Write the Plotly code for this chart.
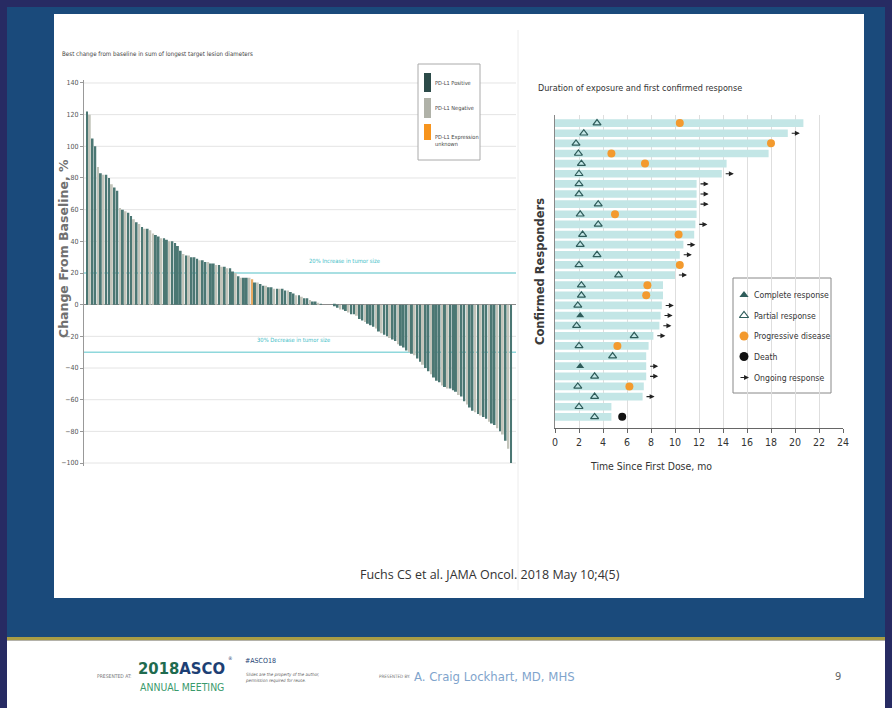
import plotly.graph_objects as go

W, H = 892, 708
NARROW = "Liberation Sans Narrow, DejaVu Sans Condensed, Arial Narrow, sans-serif"
NAVY = "#272b63"
SLIDE_BLUE = "#1a4a7b"

# ---------------- waterfall: best % change from baseline (sorted) ----------------
best_change = [
    122, 120, 105, 100, 87, 83, 82, 82, 80, 76,
    74, 72, 61, 60, 59, 58, 56, 54, 52, 51,
    49, 48, 48, 47, 45, 44, 43, 42, 42, 41,
    40, 40, 39, 37, 34, 32, 31, 31, 30, 30,
    29, 28, 28, 27, 27, 26, 26, 25, 25, 24,
    24, 23, 23, 21, 20, 18, 17, 17, 17, 17,
    16, 14, 14, 13, 12, 12, 11, 11, 10, 10,
    10, 10, 9, 9, 8, 7, 6, 6, 5, 4,
    4, 3, 2, 2, 1, 0.5, 0, 0, 0, 0,
    -1, -2, -3, -3, -4, -5, -6, -6, -7, -9,
    -10, -11, -12, -13, -14, -15, -17, -18, -19, -20,
    -21, -22, -23, -25, -26, -27, -29, -30, -31, -32,
    -34, -36, -38, -40, -42, -44, -46, -48, -49, -51,
    -52, -53, -53, -54, -55, -57, -58, -61, -63, -65,
    -67, -68, -69, -70, -71, -72, -74, -75, -76, -78,
    -80, -82, -86, -91, -100,
]
# P = PD-L1 positive, N = PD-L1 negative, U = expression unknown
pdl1_status = (
    "PNPPNPNPPN" "PPNPNPPNPN" "PNPNNPPNPP" "NPPPPNPNPP"
    "PNPPNPPNPN" "PNPPNPNPPN" "UPNPPNPPNP" "NPPNPPNPNP"
    "PNPPNPPNPP" "PPNPPNPPNP" "PNPPPNPNPP" "NPPNPPPNPN"
    "PPNPPNPPPN" "PNPPPNPPNP" "PNPNPPNPPN" "PNPNP"
)
status_labels = ["PD-L1 Positive", "PD-L1 Negative", "PD-L1 Expression<br>unknown"]
bar_colors = {"P": "#4b7773", "N": "#c2c4ba", "U": "#e9aa62"}
swatch_colors = ["#2c4b49", "#b0b2a8", "#f7941d"]
y_ticks_left = list(range(-100, 141, 20))
ref_levels = [20, -30]
ref_labels = ["20% Increase in tumor size", "30% Decrease in tumor size"]

# ---------------- swimmer plot: 30 confirmed responders (top to bottom) ----------------
exposure_mo = [20.7, 19.4, 18.0, 17.8, 14.3, 13.9, 11.8, 11.8, 11.8, 11.8,
               11.7, 11.6, 10.7, 10.4, 10.2, 10.0, 9.0, 9.0, 8.9, 8.8,
               8.7, 8.2, 7.8, 7.6, 7.6, 7.6, 7.4, 7.3, 4.7, 4.7]
response_mo = [3.5, 2.4, 1.75, 1.95, 2.2, 2.0, 2.0, 2.0, 3.6, 2.1,
               3.6, 2.3, 2.1, 3.5, 2.0, 5.3, 2.2, 2.2, 1.9, 2.1,
               1.8, 6.6, 2.0, 4.8, 2.1, 3.3, 1.9, 3.3, 2.0, 3.3]
response_type = ["PR"] * 19 + ["CR"] + ["PR"] * 4 + ["CR"] + ["PR"] * 5
progression_mo = [10.4, None, 18.0, 4.7, 7.5, None, None, None, None, 5.0,
                  None, 10.3, None, None, 10.4, None, 7.7, 7.6, None, None,
                  None, None, 5.2, None, None, None, 6.2, None, None, None]
death_mo = [None] * 29 + [5.6]
ongoing = [False, True, False, False, False, True, True, True, True, False,
           True, False, True, True, False, True, False, False, True, True,
           True, True, False, False, True, True, False, True, False, False]
x_ticks_right = list(range(0, 25, 2))

legend_right = ["Complete response", "Partial response", "Progressive disease",
                "Death", "Ongoing response"]

n_resp = len(exposure_mo)
rows = [n_resp - i for i in range(n_resp)]


def px(x):
    return x / W


def py(y):
    return 1 - y / H


def note(x, y, text, size, color, xanchor="left", yanchor="middle", family=NARROW, **kw):
    """Text placed in slide pixel coordinates."""
    return dict(x=px(x), y=py(y), xref="paper", yref="paper", text=text, showarrow=False,
                xanchor=xanchor, yanchor=yanchor,
                font=dict(family=family, size=size, color=color), **kw)


fig = go.Figure()

# waterfall bars
idx = list(range(len(best_change)))
fig.add_trace(go.Bar(
    x=idx, y=best_change, width=0.72,
    marker=dict(color=[bar_colors[s] for s in pdl1_status], line=dict(width=0)),
    xaxis="x", yaxis="y", hoverinfo="y",
))

# swimmer lanes
fig.add_trace(go.Bar(
    x=exposure_mo, y=rows, base=0, orientation="h", width=0.76,
    marker=dict(color="#c3e6e6", line=dict(width=0)),
    xaxis="x2", yaxis="y2", hoverinfo="x",
))

TEAL = "#2e5c5a"
pr = [(r, y) for r, y, t in zip(response_mo, rows, response_type) if t == "PR"]
cr = [(r, y) for r, y, t in zip(response_mo, rows, response_type) if t == "CR"]
pd_pts = [(p, y) for p, y in zip(progression_mo, rows) if p is not None]
dth = [(d, y) for d, y in zip(death_mo, rows) if d is not None]

fig.add_trace(go.Scatter(x=[p[0] for p in pd_pts], y=[p[1] for p in pd_pts], mode="markers",
                         marker=dict(symbol="circle", size=8, color="#f39a2e"),
                         xaxis="x2", yaxis="y2"))
fig.add_trace(go.Scatter(x=[p[0] for p in dth], y=[p[1] for p in dth], mode="markers",
                         marker=dict(symbol="circle", size=8, color="#111111"),
                         xaxis="x2", yaxis="y2"))
fig.add_trace(go.Scatter(x=[p[0] for p in pr], y=[p[1] for p in pr], mode="markers",
                         marker=dict(symbol="triangle-up-open", size=7, color=TEAL,
                                     line=dict(width=1.2, color=TEAL)),
                         xaxis="x2", yaxis="y2"))
fig.add_trace(go.Scatter(x=[p[0] for p in cr], y=[p[1] for p in cr], mode="markers",
                         marker=dict(symbol="triangle-up", size=7, color=TEAL),
                         xaxis="x2", yaxis="y2"))

ARROW = dict(text="", showarrow=True, arrowhead=2, arrowsize=0.9,
             arrowwidth=1.1, arrowcolor="#222222")
annotations = []
for dur, y, on in zip(exposure_mo, rows, ongoing):
    if on:
        annotations.append(dict(
            x=dur + 1.0, y=y, ax=dur + 0.2, ay=y,
            xref="x2", yref="y2", axref="x2", ayref="y2", **ARROW))

# key for the swimmer plot (auxiliary axis laid over the key box)
key_y = [295, 315.5, 336, 356.5, 377.5]
key_x = 744
fig.add_trace(go.Scatter(x=[key_x], y=[key_y[0]], mode="markers",
                         marker=dict(symbol="triangle-up", size=8, color=TEAL),
                         xaxis="x3", yaxis="y3"))
fig.add_trace(go.Scatter(x=[key_x], y=[key_y[1]], mode="markers",
                         marker=dict(symbol="triangle-up-open", size=8, color=TEAL,
                                     line=dict(width=1.2, color=TEAL)),
                         xaxis="x3", yaxis="y3"))
fig.add_trace(go.Scatter(x=[key_x], y=[key_y[2]], mode="markers",
                         marker=dict(symbol="circle", size=9, color="#f39a2e"),
                         xaxis="x3", yaxis="y3"))
fig.add_trace(go.Scatter(x=[key_x], y=[key_y[3]], mode="markers",
                         marker=dict(symbol="circle", size=9, color="#111111"),
                         xaxis="x3", yaxis="y3"))
annotations.append(dict(x=key_x + 5, y=key_y[4], ax=key_x - 5, ay=key_y[4],
                        xref="x3", yref="y3", axref="x3", ayref="y3", **ARROW))
for lab, yy in zip(legend_right, key_y):
    annotations.append(dict(x=752, y=yy, xref="x3", yref="y3", text=lab, showarrow=False,
                            xanchor="left", yanchor="middle",
                            font=dict(family=NARROW, size=8.6, color="#333333")))

shapes = [
    # slide background, content panel, footer
    dict(type="rect", xref="paper", yref="paper", x0=px(7), x1=px(885), y0=py(638), y1=py(7),
         fillcolor=SLIDE_BLUE, line=dict(width=0), layer="below"),
    dict(type="rect", xref="paper", yref="paper", x0=px(54), x1=px(864), y0=py(598), y1=py(14),
         fillcolor="white", line=dict(width=0), layer="below"),
    dict(type="rect", xref="paper", yref="paper", x0=px(7), x1=px(885), y0=py(640.5), y1=py(637),
         fillcolor="#a99d45", line=dict(width=0), layer="below"),
    dict(type="rect", xref="paper", yref="paper", x0=px(7), x1=px(885), y0=0, y1=py(640.5),
         fillcolor="white", line=dict(width=0), layer="below"),
    # panel divider
    dict(type="line", xref="paper", yref="paper", x0=px(518), x1=px(518), y0=py(590), y1=py(30),
         line=dict(color="#ececec", width=1), layer="below"),
]
# waterfall gridlines, then the tumour-size reference lines, all beneath the bars
for v in y_ticks_left:
    if v != 0:
        shapes.append(dict(type="line", xref="x domain", yref="y", x0=0, x1=1, y0=v, y1=v,
                           line=dict(color="#e4e4e4", width=1), layer="below"))
for v in ref_levels:
    shapes.append(dict(type="line", xref="x domain", yref="y", x0=0, x1=1, y0=v, y1=v,
                       line=dict(color="#8fd8dc", width=1.5), layer="below"))
# key boxes
shapes += [
    dict(type="rect", xref="paper", yref="paper", x0=px(418), x1=px(480), y0=py(160), y1=py(64),
         fillcolor="white", line=dict(color="#aaaaaa", width=1), layer="above"),
    dict(type="rect", xref="paper", yref="paper", x0=px(733), x1=px(831), y0=py(393), y1=py(278),
         fillcolor="white", line=dict(color="#888888", width=1), layer="below"),
]

# waterfall key swatches and labels
sw_y = [(73, 92), (98, 118), (124, 140)]
lab_y = [83, 108, 140]
for (y0, y1), col, lab, ly in zip(sw_y, swatch_colors, status_labels, lab_y):
    shapes.append(dict(type="rect", xref="paper", yref="paper", x0=px(424), x1=px(431),
                       y0=py(y1), y1=py(y0), fillcolor=col, line=dict(width=0), layer="above"))
    annotations.append(note(433, ly, lab, 5.6, "#444444", align="left"))

# reference line labels
annotations.append(dict(x=0.604, y=27.5, xref="x domain", yref="y", showarrow=False,
                        xanchor="center", yanchor="middle", text=ref_labels[0],
                        font=dict(family=NARROW, size=5.8, color="#45c0c8")))
annotations.append(dict(x=0.484, y=-22, xref="x domain", yref="y", showarrow=False,
                        xanchor="center", yanchor="middle", text=ref_labels[1],
                        font=dict(family=NARROW, size=5.8, color="#45c0c8")))

# titles and labels
annotations += [
    note(60, 54, "Best change from baseline in sum of longest target lesion diameters",
         6.2, "#444444"),
    dict(x=px(63), y=py(248), xref="paper", yref="paper", showarrow=False, textangle=-90,
         xanchor="center", yanchor="middle", text="Change From Baseline, %",
         font=dict(family="DejaVu Sans", size=12.5, color="#707070", weight="bold")),
    note(536, 88, "Duration of exposure and first confirmed response", 9, "#333333"),
    dict(x=px(540), y=py(272), xref="paper", yref="paper", showarrow=False, textangle=-90,
         xanchor="center", yanchor="middle", text="Confirmed Responders",
         font=dict(family="DejaVu Sans", size=11.5, color="#3a3a3a", weight="bold")),
    note(651, 466, "Time Since First Dose, mo", 10.4, "#333333", xanchor="center"),
    note(490, 574, "Fuchs CS et al. JAMA Oncol. 2018 May 10;4(5)", 12.5, "#333333",
         xanchor="center", family="Open Sans"),
    # footer
    note(95, 676, "PRESENTED AT:", 5, "#777777"),
    dict(x=px(136), y=py(668), xref="paper", yref="paper", showarrow=False,
         xanchor="left", yanchor="middle",
         text="<span style='color:#1f6b4f'>2018</span><span style='color:#1d3f74'>ASCO</span>",
         font=dict(family=NARROW, size=16.5, weight="bold")),
    note(226, 658, "®", 5, "#1d3f74"),
    note(138, 687, "ANNUAL MEETING", 10.4, "#3a9a6c"),
    note(243, 661, "#ASCO18", 7, "#1d3f74"),
    note(243, 677, "<i>Slides are the property of the author,<br>permission required for reuse.</i>",
         4.4, "#666666", align="left"),
    note(377, 676, "PRESENTED BY:", 4.5, "#777777"),
    note(412, 676, "A. Craig Lockhart, MD, MHS", 13, "#7fa4cc"),
    note(838, 676, "9", 11, "#666666", xanchor="center"),
]

n_bars = len(best_change)
fig.update_layout(
    width=W, height=H, autosize=False, margin=dict(l=0, r=0, t=0, b=0, pad=0, autoexpand=False),
    paper_bgcolor=NAVY, plot_bgcolor="rgba(0,0,0,0)",
    showlegend=False, barmode="overlay",
    shapes=shapes, annotations=annotations,
    xaxis=dict(domain=[px(84), px(516)], range=[-1.09, n_bars + 0.8], automargin=False,
               showticklabels=False, showgrid=False, zeroline=False, showline=False,
               fixedrange=True),
    yaxis=dict(domain=[py(466.2), py(79.8)], range=[-102, 142], tickvals=y_ticks_left,
               automargin=False,
               ticks="outside", ticklen=3, tickcolor="#999999", showline=True,
               linecolor="#999999", linewidth=1, showgrid=False,
               zeroline=True, zerolinecolor="#8a8a8a", zerolinewidth=1,
               tickfont=dict(family=NARROW, size=7, color="#555555")),
    xaxis2=dict(domain=[px(555), px(843)], range=[0, 24], tickvals=x_ticks_right,
                automargin=False,
                ticks="outside", ticklen=4, tickcolor="#666666", showline=True,
                linecolor="#666666", gridcolor="#dedede", zeroline=False, anchor="y2",
                tickfont=dict(family=NARROW, size=10.5, color="#333333")),
    yaxis2=dict(domain=[py(428), py(115)], range=[-0.1, 30.8], showticklabels=False,
                automargin=False,
                showgrid=False, zeroline=False, showline=True, linecolor="#888888",
                ticks="", anchor="x2"),
    xaxis3=dict(domain=[px(733), px(831)], range=[733, 831], visible=False, anchor="y3",
                automargin=False),
    yaxis3=dict(domain=[py(393), py(278)], range=[393, 278], visible=False, anchor="x3",
                automargin=False),
)

fig.write_html("out.html", config={"responsive": False, "displayModeBar": False})
